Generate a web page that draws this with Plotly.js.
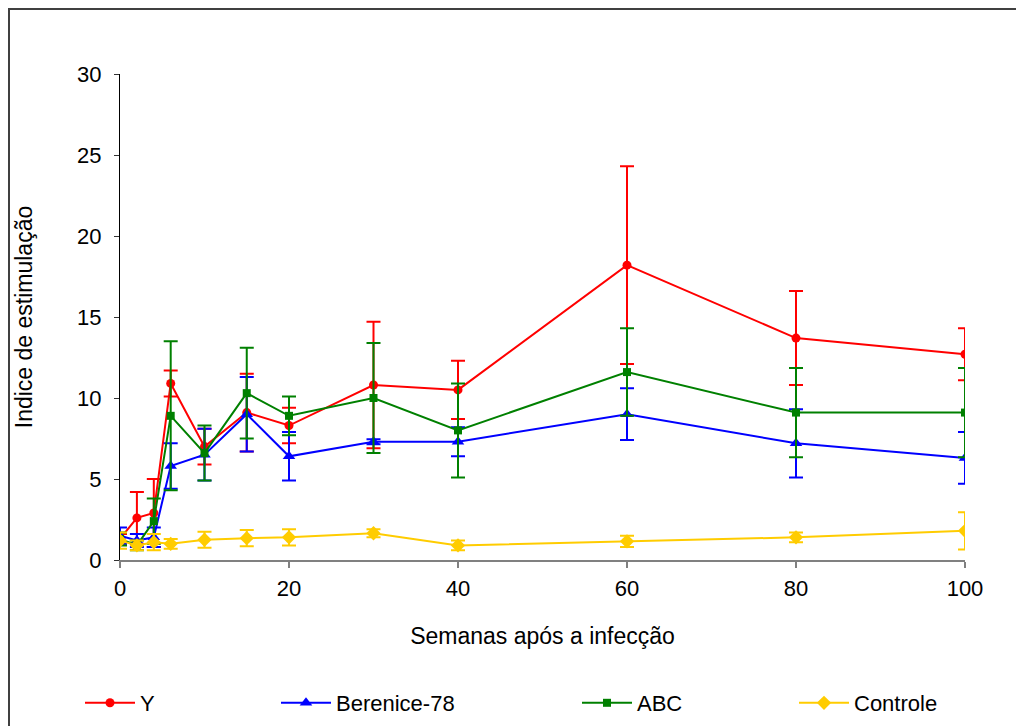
<!DOCTYPE html>
<html>
<head>
<meta charset="utf-8">
<script src="https://cdn.plot.ly/plotly-3.0.1.min.js"></script>
<style>
  html, body { margin: 0; padding: 0; background: #ffffff; }
  #chart { width: 1016px; height: 726px; }
</style>
</head>
<body>
<div id="chart"></div>
<script>
// Weeks after infection
const weeks = [0, 2, 4, 6, 10, 15, 20, 30, 40, 60, 80, 100];

// Stimulation index (mean) and error per group
const seriesY = [1.3, 2.6, 2.9, 10.9, 7.0, 9.1, 8.3, 10.8, 10.5, 18.2, 13.7, 12.7];
const errY = [0.3, 1.6, 2.1, 0.8, 1.1, 2.4, 1.1, 3.9, 1.8, 6.1, 2.9, 1.6];

const seriesBerenice = [1.5, 1.2, 1.4, 5.8, 6.5, 9.0, 6.4, 7.3, 7.3, 9.0, 7.2, 6.3];
const errBerenice = [0.5, 0.4, 0.6, 1.4, 1.6, 2.3, 1.5, 0.15, 0.9, 1.6, 2.1, 1.6];

const seriesABC = [1.3, 0.9, 2.4, 8.9, 6.6, 10.3, 8.9, 10.0, 8.0, 11.6, 9.1, 9.1];
const errABC = [0.4, 0.3, 1.4, 4.6, 1.7, 2.8, 1.2, 3.4, 2.9, 2.7, 2.75, 2.75];

const seriesControle = [1.2, 0.9, 1.1, 1.0, 1.25, 1.35, 1.4, 1.65, 0.9, 1.15, 1.4, 1.8];
const errControle = [0.5, 0.3, 0.5, 0.3, 0.5, 0.5, 0.5, 0.25, 0.3, 0.35, 0.3, 1.15];

const names = ['Y', 'Berenice-78', 'ABC', 'Controle'];
const xTicks = [0, 20, 40, 60, 80, 100];
const yTicks = [0, 5, 10, 15, 20, 25, 30];

function series(name, y, err, color, symbol, size, legendId) {
  return {
    type: 'scatter',
    mode: 'lines+markers',
    name: name,
    x: weeks,
    y: y,
    legend: legendId,
    line: { color: color, width: 2 },
    marker: { color: color, symbol: symbol, size: size },
    error_y: { type: 'data', array: err, visible: true, color: color, thickness: 2, width: 7 }
  };
}

const traces = [
  series(names[0], seriesY, errY, '#ff0000', 'circle', 9, 'legend'),
  series(names[1], seriesBerenice, errBerenice, '#0000ff', 'triangle-up', 11, 'legend2'),
  series(names[2], seriesABC, errABC, '#008000', 'square', 8, 'legend3'),
  series(names[3], seriesControle, errControle, '#ffcc00', 'diamond', 11, 'legend4')
];

const font = { family: 'Liberation Sans, Arial, sans-serif', color: '#000000' };

function legendAt(px) {
  return {
    orientation: 'h',
    xref: 'container', yref: 'container',
    x: px / 1016, y: 1 - 703 / 726,
    xanchor: 'left', yanchor: 'middle',
    bgcolor: 'rgba(0,0,0,0)', borderwidth: 0,
    itemwidth: 50,
    font: Object.assign({ size: 22 }, font)
  };
}

const layout = {
  width: 1016,
  height: 726,
  paper_bgcolor: '#ffffff',
  plot_bgcolor: '#ffffff',
  margin: { l: 120, r: 51, t: 74, b: 166, pad: 0 },
  font: font,
  showlegend: true,
  legend: legendAt(80),
  legend2: legendAt(276),
  legend3: legendAt(577),
  legend4: legendAt(794),
  xaxis: {
    range: [0, 100],
    tickmode: 'array',
    tickvals: xTicks,
    ticktext: xTicks.map(String),
    showgrid: false,
    zeroline: false,
    showline: true,
    linecolor: '#808080',
    linewidth: 2,
    ticks: 'outside',
    ticklen: 6,
    tickcolor: '#808080',
    tickwidth: 2,
    ticklabelstandoff: 2,
    tickfont: Object.assign({ size: 22 }, font),
    title: { text: 'Semanas após a infecção', font: Object.assign({ size: 23 }, font), standoff: 27 }
  },
  yaxis: {
    range: [0, 30],
    tickmode: 'array',
    tickvals: yTicks,
    ticktext: yTicks.map(String),
    showgrid: false,
    zeroline: false,
    showline: true,
    linecolor: '#000000',
    linewidth: 1,
    ticks: 'outside',
    ticklen: 5,
    tickcolor: '#333333',
    tickwidth: 1,
    ticklabelstandoff: 8,
    tickfont: Object.assign({ size: 22 }, font),
    title: { text: 'Indice de estimulação', font: Object.assign({ size: 23 }, font), standoff: 38 }
  },
  shapes: [
    {
      type: 'rect', xref: 'paper', yref: 'paper',
      x0: (9 - 120) / 845, x1: 1.2,
      y0: -0.6, y1: (560 - 9) / 486,
      line: { color: '#404040', width: 2 },
      fillcolor: 'rgba(0,0,0,0)',
      layer: 'below'
    }
  ]
};

Plotly.newPlot('chart', traces, layout, { displayModeBar: false, staticPlot: true });
</script>
</body>
</html>
